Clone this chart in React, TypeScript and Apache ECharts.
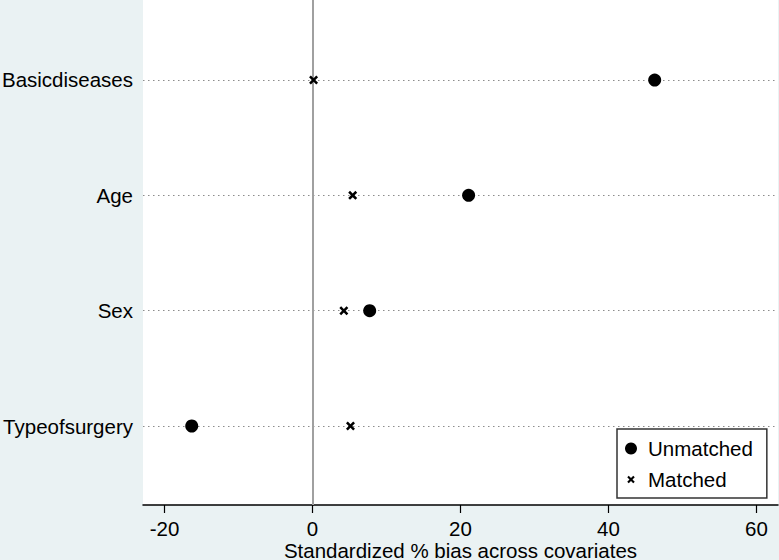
import React, { useEffect, useRef } from "react";
import * as echarts from "echarts";

const categories = ["Typeofsurgery", "Sex", "Age", "Basicdiseases"];
const unmatched = [-16.4, 7.7, 21.1, 46.3];
const matched = [5.1, 4.2, 5.4, 0.1];
const xTickMin = -20;
const xTickMax = 60;
const xTickStep = 20;
const xTitle = "Standardized % bias across covariates";
const seriesNames = ["Unmatched", "Matched"];

const CROSS = "path://M0,2L2,0L5,3L8,0L10,2L7,5L10,8L8,10L5,7L2,10L0,8L3,5Z";
const CROSS_PAD = "path://M-3,-3L-3,-3M13,13L13,13M0,2L2,0L5,3L8,0L10,2L7,5L10,8L8,10L5,7L2,10L0,8L3,5Z";
const FONT = "'Liberation Sans', Arial, sans-serif";
const FS = 20.5;

export default function App() {
  const ref = useRef<HTMLDivElement>(null);
  useEffect(() => {
    if (!ref.current) return;
    const chart = echarts.init(ref.current, null, { renderer: "svg" });
    const option: any = {
      animation: false,
      backgroundColor: "#EAF2F3",
      textStyle: { fontFamily: FONT },
      grid: [
        { left: 143, right: 1, top: 0, bottom: 55, show: true, backgroundColor: "#ffffff", borderWidth: 0, outerBoundsMode: "none", containLabel: false },
        { left: 164.5, right: 22.5, top: 0, bottom: 55, outerBoundsMode: "none", containLabel: false },
        { left: 143, right: 1, top: 22.3, bottom: 76.3, outerBoundsMode: "none", containLabel: false },
      ],
      xAxis: [
        {
          gridIndex: 0, type: "value", min: -23, max: 63,
          axisLine: { show: true, lineStyle: { color: "#000", width: 1.5 } },
          axisTick: { show: false }, axisLabel: { show: false }, splitLine: { show: false },
        },
        {
          gridIndex: 1, type: "value", min: xTickMin, max: xTickMax, interval: xTickStep,
          axisLine: { show: false },
          axisTick: { show: true, length: 8, lineStyle: { color: "#000", width: 1.2 } },
          axisLabel: { show: true, color: "#000", fontSize: FS, margin: 13, fontFamily: FONT },
          splitLine: { show: false },
          name: xTitle, nameLocation: "middle", nameGap: 35, nameMoveOverlap: false,
          nameTextStyle: { color: "#000", fontSize: FS, fontFamily: FONT },
        },
        {
          gridIndex: 2, type: "value", min: 0, max: 1, show: false,
        },
      ],
      yAxis: [
        {
          gridIndex: 0, type: "value", min: 0.315, max: 4.694,
          axisLine: { show: true, lineStyle: { color: "#000", width: 1.5 } },
          axisTick: { show: false }, axisLabel: { show: false }, splitLine: { show: false },
        },
        {
          gridIndex: 1, type: "value", min: 0, max: 1, show: false,
        },
        {
          gridIndex: 2, type: "category", data: categories,
          axisLine: { show: false }, axisTick: { show: false }, splitLine: { show: false },
          axisLabel: { color: "#000", fontSize: FS, margin: 10, fontFamily: FONT },
        },
      ],
      legend: {
        orient: "vertical",
        left: 617, top: 429,
        padding: [9, 14, 8, 8],
        itemGap: 10,
        itemWidth: 12, itemHeight: 12,
        backgroundColor: "#ffffff",
        borderColor: "#333",
        borderWidth: 1.5,
        borderRadius: 0,
        itemStyle: { opacity: 1 },
        textStyle: { color: "#000", fontSize: FS, fontFamily: FONT, padding: [0, 0, 0, 6] },
        data: [
          { name: seriesNames[0], icon: "circle", itemStyle: { color: "#000", opacity: 1 } },
          { name: seriesNames[1], icon: CROSS_PAD, itemStyle: { color: "#000", opacity: 1 } },
        ],
      },
      series: [
        {
          name: seriesNames[0],
          type: "scatter",
          xAxisIndex: 0, yAxisIndex: 0,
          symbol: "circle", symbolSize: 13,
          itemStyle: { color: "#000", opacity: 1 },
          z: 5,
          data: categories.map((_, i) => [unmatched[i], i + 1]),
          markLine: {
            silent: true, symbol: "none", label: { show: false },
            z: 1,
            data: [
              ...categories.map((_, i) => ({ yAxis: i + 1, lineStyle: { type: [1.5, 3.5], color: "#8c8c8c", width: 1.2 } })),
              { xAxis: 0, lineStyle: { type: "solid", color: "#a0a0a0", width: 2 } },
            ],
          },
        },
        {
          name: seriesNames[1],
          type: "scatter",
          xAxisIndex: 0, yAxisIndex: 0,
          symbol: CROSS, symbolSize: 9,
          itemStyle: { color: "#000", opacity: 1 },
          z: 6,
          data: categories.map((_, i) => [matched[i], i + 1]),
        },
      ],
    };
    chart.setOption(option);
    return () => chart.dispose();
  }, []);
  return (
    <div
      ref={ref}
      style={{ position: "fixed", left: 0, top: 0, width: 779, height: 560 }}
    />
  );
}
